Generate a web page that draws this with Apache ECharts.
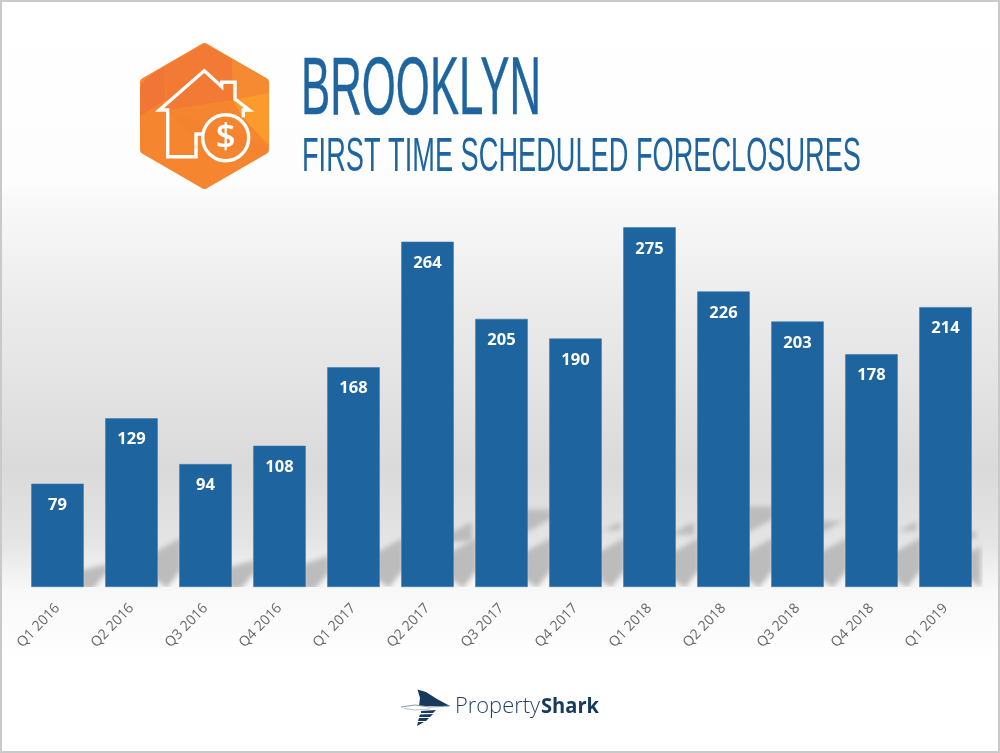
<!DOCTYPE html>
<html><head><meta charset="utf-8">
<style>html,body{margin:0;padding:0;background:#fff}#c{width:1000px;height:753px}</style>
<script src="https://cdn.jsdelivr.net/npm/echarts@6/dist/echarts.min.js"></script>
</head><body><div id="c"></div>
<script>
const categories = ['Q1 2016','Q2 2016','Q3 2016','Q4 2016','Q1 2017','Q2 2017','Q3 2017','Q4 2017','Q1 2018','Q2 2018','Q3 2018','Q4 2018','Q1 2019'];
const foreclosures = [79,129,94,108,168,264,205,190,275,226,203,178,214];
const titleMain = 'BROOKLYN';
const titleSub = 'FIRST TIME SCHEDULED FORECLOSURES';
const BLUE = '#1e659f';
const SANS = '"Liberation Sans",sans-serif';

function fitScale(text,font,target){
  const c=document.createElement('canvas').getContext('2d');
  c.font=font; return target/c.measureText(text).width;
}
const mainFont='400 81px '+SANS, subFont='400 49px '+SANS;

const chart = echarts.init(document.getElementById('c'), null, {renderer:'canvas'});

// soft floor shadows: only the blurred canvas shadow of each polygon is visible
const OFF = 1500;
function renderShadow(params, api){
  const i = api.value(0), v = api.value(1), prev = api.value(2);
  const base = api.coord([i,0]);
  const size = api.size([1,0])[0];
  const bw = size*0.712;
  const x0 = base[0]+bw/2, x1 = base[0]+size-bw/2;
  const isLast = i === categories.length-1;
  const xe = isLast ? x0+9 : x1+2;
  const k = (xe-x0)/(x1-x0);
  const y = base[1];
  const toH = a => y-api.coord([i,a*0.23])[1];
  const h = toH(v), hp = toH(prev);
  const band = pts => ({type:'polygon',shape:{points:pts.map(p=>[p[0]+OFF,p[1]])},
    style:{fill:'#aaa',shadowBlur:5,shadowColor:'#bcbcbc',shadowOffsetX:-OFF}});
  const kids = [];
  const d = 13;
  if(h<37){
    kids.push(band([[x0-3,y+2],[x0-3,y-h*0.7],[xe,y-h+1],[xe,y-15],[x0+9,y+2]]));
  } else {
    kids.push(band([[x0+9,y+1],[x0-3,y-8],[x0-3,y-35],[xe,y-35-d*k],[xe,y-d*k-3]]));
  }
  if(hp>46){
    const t = y-hp;
    const l = y-54, r = y-54-d*k;
    const pts = t<l-12 ? [[x0-3,l],[x0-3,t+2],[xe,t+2],[xe,r]] : [[x0-3,l],[x0-3,t+5],[xe-5,t+5],[xe-5,r+3]];
    kids.push(band(pts));
  }
  return {type:'group',children:kids};
}

const option = {
  animation:false,
  backgroundColor:{type:'linear',x:0,y:0,x2:0,y2:1,colorStops:[
    {offset:0,color:'#ffffff'},
    {offset:183/753,color:'#fdfdfd'},
    {offset:200/753,color:'#f9f9f9'},
    {offset:300/753,color:'#ececec'},
    {offset:470/753,color:'#dadada'},
    {offset:540/753,color:'#e4e4e4'},
    {offset:590/753,color:'#f8f8f8'},
    {offset:660/753,color:'#ffffff'},
    {offset:1,color:'#ffffff'}]},
  grid:{left:20.5,right:17.5,top:194.6,bottom:166,containLabel:false},
  xAxis:{type:'category',data:categories,
    axisLine:{show:false},axisTick:{show:false},
    axisLabel:{interval:0,rotate:46,margin:19,color:'#666666',fontFamily:'"Open Sans",sans-serif',fontSize:14}},
  yAxis:{type:'value',min:0,max:300,show:false,splitLine:{show:false}},
  series:[
    {type:'custom',z:1,clip:true,renderItem:renderShadow,silent:true,
      data:foreclosures.map((v,i)=>[i,v,i>0?foreclosures[i-1]:0]),encode:{x:0,y:1}},
    {type:'bar',z:3,data:foreclosures,barWidth:'71%',
      itemStyle:{color:BLUE,borderColor:'#3f7cad',borderWidth:0.6},
      label:{show:true,position:'insideTop',distance:13,color:'#fff',
        fontFamily:'"Open Sans",sans-serif',fontWeight:700,fontSize:16.5}}
  ],
  graphic:[
    {type:'rect',shape:{x:1,y:1,width:998,height:751},style:{fill:'none',stroke:'#c9c9c9',lineWidth:2},z:20},
    {type:'polygon',shape:{points:[[204.5,47],[265,82],[265,150],[204.5,185],[144,150],[144,82]]},
      style:{fill:'#f5862f',stroke:'#f5862f',lineWidth:8,lineJoin:'round'}},
    {type:'polygon',shape:{points:[[204.5,44],[232,59],[233,100],[167,110],[164,67]]},style:{fill:'#f37a34'}},
    {type:'polygon',shape:{points:[[164,67],[165,100],[140,116],[140,87],[147,78]]},style:{fill:'#f07536'}},
    {type:'polygon',shape:{points:[[232,59],[262,76],[268.5,84],[268.5,93],[233,100]]},style:{fill:'#f68a33'}},
    {type:'polygon',shape:{points:[[233,100],[268.5,93],[268.5,145],[243,118]]},style:{fill:'#fa9b2c'}},
    {type:'polygon',shape:{points:[[167,110],[268,147],[264,154],[240,150],[190,135]]},style:{fill:'#f4832f'}},
    {type:'polyline',shape:{points:[[201.7,134],[196,134],[196,156.7],[167.7,156.7],[167.7,110],[159.3,110],[204.3,70.7],[221.7,86.7],[221.7,82.3],[235,82.3],[235,99],[249.3,110],[243.3,110],[243.3,117.3]]},
      style:{fill:'none',stroke:'#fff',lineWidth:3.4,lineJoin:'miter'}},
    {type:'circle',shape:{cx:225.7,cy:137.7,r:23},style:{fill:'none',stroke:'#fff',lineWidth:3.4}},
    {type:'text',x:225.7,y:138,style:{text:'$',fill:'#fff',font:'600 35px "Open Sans",sans-serif',align:'center',verticalAlign:'middle'}},
    {type:'text',x:301,y:92,scaleX:fitScale(titleMain,mainFont,240),style:{text:titleMain,fill:BLUE,stroke:BLUE,lineWidth:0.5,font:mainFont,align:'left',verticalAlign:'middle'}},
    {type:'text',x:302,y:157,scaleX:fitScale(titleSub,subFont,559),style:{text:titleSub,fill:BLUE,font:subFont,align:'left',verticalAlign:'middle'}},
    {type:'polygon',shape:{points:[[417.5,689.5],[426,692],[437,699],[450,706],[419,706],[420,698]]},style:{fill:'#16395c'}},
    {type:'polyline',shape:{points:[[401,707],[415,705],[430,707],[450,706]]},style:{fill:'none',stroke:'#8a9aa8',lineWidth:1}},
    {type:'polyline',shape:{points:[[404,708.5],[415,710],[430,709]]},style:{fill:'none',stroke:'#b8c2cb',lineWidth:1}},
    {type:'polygon',shape:{points:[[421,711],[436,710],[433,713],[421,713]]},style:{fill:'#16395c'}},
    {type:'polygon',shape:{points:[[420,714.5],[433,714],[430,717],[419,717]]},style:{fill:'#16395c'}},
    {type:'polygon',shape:{points:[[419,718],[429,718],[426,721],[418,721]]},style:{fill:'#16395c'}},
    {type:'polygon',shape:{points:[[418,722],[424,722],[417,726]]},style:{fill:'#16395c'}},
    {type:'text',x:455,y:707,scaleX:fitScale('Property','300 22px "Open Sans",sans-serif',85),style:{text:'Property',fill:'#1f3f5f',font:'300 22px "Open Sans",sans-serif',align:'left',verticalAlign:'middle'}},
    {type:'text',x:599,y:707,scaleX:fitScale('Shark','700 22px "Open Sans",sans-serif',58),style:{text:'Shark',fill:'#16395c',font:'700 22px "Open Sans",sans-serif',align:'right',verticalAlign:'middle'}}
  ]
};
chart.setOption(option);
</script></body></html>
